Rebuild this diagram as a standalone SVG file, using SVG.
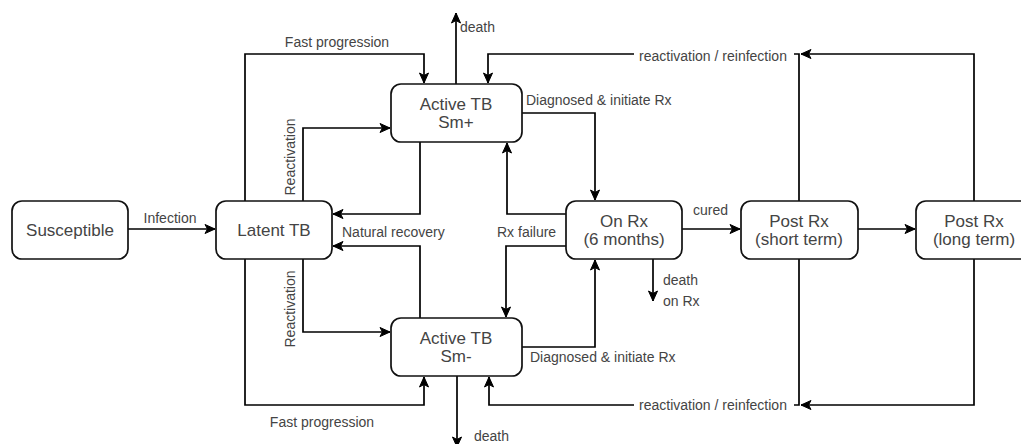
<svg xmlns="http://www.w3.org/2000/svg" width="1021" height="444" viewBox="0 0 1021 444">
<defs>
<marker id="arr" markerUnits="userSpaceOnUse" markerWidth="12" markerHeight="12" viewBox="0 0 12 12" refX="11" refY="6" orient="auto">
<path d="M1,1.5 L11,6 L1,10.5 L3.5,6 Z" fill="#000" stroke="#000" stroke-width="1"/>
</marker>
</defs>
<style>
.node rect{fill:#fff;stroke:#111;stroke-width:1.7}
.node text{font-family:"Liberation Sans",Arial,sans-serif;font-size:17px;fill:#444;text-anchor:middle}
.conn path{fill:none;stroke:#000;stroke-width:1.7;marker-end:url(#arr)}
.lbl{font-family:"Liberation Sans",Arial,sans-serif;font-size:14px;fill:#444}
.mid{text-anchor:middle}
</style>
<rect width="1021" height="444" fill="#fff"/>
<g id="connectors" class="conn">
<path d="M128,229 H215"/>
<path d="M245,201 V54 H424 V83"/>
<path d="M456,84 V13"/>
<path d="M303,201 V128 H390"/>
<path d="M420,142 V214 H333"/>
<path d="M522,113 H595 V200"/>
<path d="M566,214 H507 V143"/>
<path d="M566,246 H506 V317"/>
<path d="M522,347 H595 V260"/>
<path d="M682,229 H740"/>
<path d="M858,229 H915"/>
<path d="M653,259 V301"/>
<path d="M799,201 V54 H488 V83"/>
<path d="M974,201 V54 H801"/>
<path d="M799,259 V405 H489 V377"/>
<path d="M974,259 V405 H801"/>
<path d="M457,376 V447"/>
<path d="M245,259 V405 H424 V377"/>
<path d="M303,259 V332 H390"/>
<path d="M420,318 V246 H333"/>
</g>
<g id="labels">
<rect x="634" y="46" width="160" height="16" fill="#fff"/>
<rect x="634" y="397" width="160" height="16" fill="#fff"/>
<text class="lbl mid" x="337" y="47">Fast progression</text>
<text class="lbl" x="460" y="32">death</text>
<text class="lbl mid" x="170" y="223">Infection</text>
<text class="lbl" x="342" y="237">Natural recovery</text>
<text class="lbl" x="497" y="237">Rx failure</text>
<text class="lbl" x="526" y="105">Diagnosed &amp; initiate Rx</text>
<text class="lbl" x="530" y="362">Diagnosed &amp; initiate Rx</text>
<text class="lbl" x="693" y="215">cured</text>
<text class="lbl" x="663" y="285">death</text>
<text class="lbl" x="663" y="306">on Rx</text>
<text class="lbl mid" x="713" y="61">reactivation / reinfection</text>
<text class="lbl mid" x="713" y="410">reactivation / reinfection</text>
<text class="lbl mid" x="322" y="427">Fast progression</text>
<text class="lbl" x="474" y="441">death</text>
<text class="lbl mid" transform="translate(295,157) rotate(-90)">Reactivation</text>
<text class="lbl mid" transform="translate(295,309) rotate(-90)">Reactivation</text>
</g>
<g id="susceptible" class="node"><rect x="12" y="201" width="116" height="58" rx="10"/><text x="70" y="236">Susceptible</text></g>
<g id="latent" class="node"><rect x="216" y="201" width="116" height="58" rx="10"/><text x="274" y="236">Latent TB</text></g>
<g id="active-pos" class="node"><rect x="391" y="84" width="131" height="58" rx="10"/><text x="456" y="110">Active TB</text><text x="456" y="128">Sm+</text></g>
<g id="active-neg" class="node"><rect x="391" y="318" width="131" height="58" rx="10"/><text x="456" y="344">Active TB</text><text x="456" y="362">Sm-</text></g>
<g id="on-rx" class="node"><rect x="566" y="201" width="116" height="58" rx="10"/><text x="624" y="227">On Rx</text><text x="624" y="245">(6 months)</text></g>
<g id="post-short" class="node"><rect x="741" y="201" width="117" height="58" rx="10"/><text x="799" y="227">Post Rx</text><text x="799" y="245">(short term)</text></g>
<g id="post-long" class="node"><rect x="916" y="201" width="117" height="58" rx="10"/><text x="974" y="227">Post Rx</text><text x="974" y="245">(long term)</text></g>
</svg>
